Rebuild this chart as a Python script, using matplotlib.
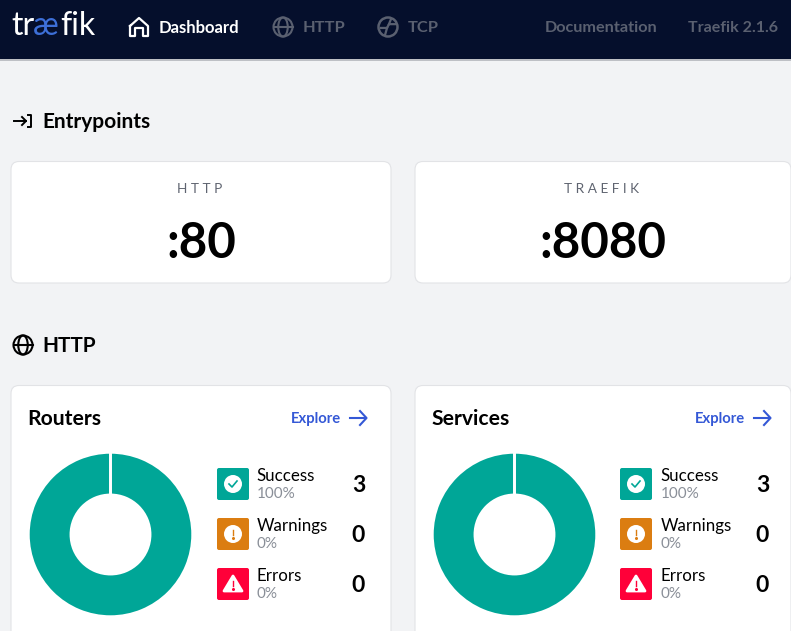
import numpy as np
from matplotlib import pyplot as plt
from matplotlib.patches import FancyBboxPatch, Circle, Polygon, Rectangle, Ellipse

plt.rcParams['font.family'] = ['Lato', 'DejaVu Sans']

# values shown on the dashboard
nav_items = ['Dashboard', 'HTTP', 'TCP']
nav_right = ['Documentation', 'Traefik 2.1.6']
entry_names = ['HTTP', 'TRAEFIK']
entry_ports = [':80', ':8080']
card_titles = ['Routers', 'Services']
status_names = ['Success', 'Warnings', 'Errors']
status_pcts = ['100%', '0%', '0%']
status_counts = [3, 0, 0]

W, H = 791, 631
NAVY = '#050f2c'
GREY = '#5a6070'
BG = '#f2f3f5'
BORDER = '#e2e3e6'
BLUE = '#3458d6'
status_colors = ['#00a697', '#db7d11', '#ff0039']


def card(ax, x0, y0, x1, y1, color='white', edge=BORDER, r=8, z=1):
    ax.add_patch(FancyBboxPatch((x0 + r, y0 + r), x1 - x0 - 2 * r, y1 - y0 - 2 * r,
                                boxstyle='round,pad=%d,rounding_size=%d' % (r, r),
                                fc=color, ec=edge, lw=0.8, zorder=z))


def globe(ax, cx, cy, r, color, lw=1.5):
    ax.add_patch(Circle((cx, cy), r, fc='none', ec=color, lw=lw, zorder=5))
    ax.add_patch(Ellipse((cx, cy), r * 1.0, 2 * r, fc='none', ec=color, lw=lw, zorder=5))
    ax.plot([cx - r, cx + r], [cy, cy], color=color, lw=lw, zorder=5)


def house(ax, cx, cy, color):
    ax.plot([cx - 9, cx, cx + 9, cx + 9, cx + 4, cx + 4, cx - 4, cx - 4, cx - 9, cx - 9],
            [cy - 1, cy - 9, cy - 1, cy + 9, cy + 9, cy + 1, cy + 1, cy + 9, cy + 9, cy - 1],
            color=color, lw=1.6, zorder=5, solid_joinstyle='round')


def tcp_icon(ax, cx, cy, r, color):
    ax.add_patch(Circle((cx, cy), r, fc='none', ec=color, lw=1.8, zorder=5))
    ax.plot([cx - r * 0.75, cx - r * 0.1, cx + r * 0.1, cx + r * 0.75],
            [cy + r * 0.1, cy + r * 0.1, cy - r * 0.3, cy - r * 0.3], color=color, lw=1.6, zorder=5)
    ax.plot([cx - r * 0.1, cx - r * 0.3], [cy + r * 0.1, cy + r * 0.8], color=color, lw=1.6, zorder=5)
    ax.plot([cx + r * 0.1, cx + r * 0.3], [cy - r * 0.3, cy - r * 0.8], color=color, lw=1.6, zorder=5)


def status_icon(ax, x, y, i):
    c = status_colors[i]
    ax.add_patch(FancyBboxPatch((x + 2, y + 2), 28, 28, boxstyle='round,pad=2,rounding_size=2',
                                fc=c, ec='none', zorder=3))
    cx, cy = x + 16, y + 16
    if i == 2:
        ax.add_patch(Polygon([[cx, cy - 8], [cx + 9, cy + 7], [cx - 9, cy + 7]], closed=True,
                             fc='white', ec='white', lw=2, joinstyle='round', zorder=4))
    else:
        ax.add_patch(Circle((cx, cy), 9, fc='white', ec='none', zorder=4))
    if i == 0:
        ax.plot([cx - 4, cx - 1, cx + 4], [cy, cy + 3, cy - 3], color=c, lw=1.2, zorder=5)
    else:
        dy = 1 if i == 2 else 0
        ax.plot([cx, cx], [cy - 4 + dy, cy + 1 + dy], color=c, lw=1.0, zorder=5)
        ax.plot([cx], [cy + 3.5 + dy], marker='o', ms=1.2, color=c, zorder=5)


fig = plt.figure(figsize=(W / 100, H / 100), dpi=100, facecolor=BG)
ax = fig.add_axes([0, 0, 1, 1])
ax.set_xlim(0, W)
ax.set_ylim(H, 0)
ax.axis('off')

# top bar
ax.add_patch(Rectangle((0, 0), W, 59, fc=NAVY, ec='none', zorder=2))
ax.plot([0, W], [59.5, 59.5], color='#b4b6bc', lw=1.2, zorder=1)

# logo
for txt, x, col in zip(['tr', 'æ', 'fik'], [11, 33, 60], ['white', '#3d6fd8', 'white']):
    ax.text(x, 26, txt, color=col, fontsize=23, fontweight='normal', va='center', ha='left', zorder=5)

house(ax, 139, 27, 'white')
ax.text(159, 28, nav_items[0], color='white', fontsize=12, fontweight='bold', va='center', zorder=5)
globe(ax, 283, 27, 9.5, GREY)
ax.text(303, 28, nav_items[1], color=GREY, fontsize=11.8, fontweight='bold', va='center', zorder=5)
tcp_icon(ax, 388, 27, 9.5, GREY)
ax.text(408, 28, nav_items[2], color=GREY, fontsize=11.8, fontweight='bold', va='center', zorder=5)
ax.text(545, 28, nav_right[0], color=GREY, fontsize=11.7, fontweight='bold', va='center', zorder=5)
ax.text(688, 28, nav_right[1], color=GREY, fontsize=11.5, fontweight='bold', va='center', zorder=5)

# Entrypoints section
ax.plot([14, 26], [121, 121], color='black', lw=1.4)
ax.plot([22, 26, 22], [117, 121, 125], color='black', lw=1.4)
ax.plot([28, 31, 31, 28], [115, 115, 127, 127], color='black', lw=1.4)
ax.text(42.5, 122, 'Entrypoints', fontsize=15, fontweight='bold', va='center', color='black')

for x0, x1, name, port in zip([11, 415], [391, 791], entry_names, entry_ports):
    card(ax, x0, 161.5, x1, 283)
    xc = (x0 + x1) / 2
    ax.text(xc - 1, 189, ' '.join(name), fontsize=9.8, color='#5f6470', ha='center', va='center')
    ax.text(xc, 243, port, fontsize=35.5, fontweight='bold', ha='center', va='center', color='black')

# HTTP section
globe(ax, 23, 345, 9.5, 'black')
ax.text(42.5, 346, 'HTTP', fontsize=15, fontweight='bold', va='center', color='black')

for x0, x1, title in zip([11, 415], [391, 791], card_titles):
    card(ax, x0, 385.5, x1, 660)
    ax.text(x0 + 16.5, 419, title, fontsize=15.2, fontweight='bold', va='center', color='black')
    ax.text(x0 + 280, 419, 'Explore', fontsize=10.6, fontweight='bold', va='center', color=BLUE)
    ax.plot([x0 + 339, x0 + 355], [418, 418], color=BLUE, lw=1.5, zorder=3)
    ax.plot([x0 + 349, x0 + 355.5, x0 + 349], [411, 418, 425], color=BLUE, lw=1.5, zorder=3)

    # donut from the status counts
    cx = x0 + 99.5
    pie_ax = fig.add_axes([(cx - 83) / W, 1 - (534.5 + 83) / H, 166 / W, 166 / H])
    pie_ax.pie(status_counts, colors=status_colors, startangle=90, counterclock=False,
               radius=1.01, wedgeprops=dict(width=0.524, edgecolor='white', linewidth=2))
    pie_ax.set_xlim(-1.02, 1.02)
    pie_ax.set_ylim(-1.02, 1.02)

    # status rows
    for i in range(3):
        y = 468 + 50 * i
        status_icon(ax, x0 + 206 if x0 == 11 else x0 + 205, y, i)
        tx = x0 + 245.5
        ax.text(tx, y + 8, status_names[i], fontsize=12.2, va='center', color='black', zorder=5)
        ax.text(tx, y + 26, status_pcts[i], fontsize=11, va='center', color='#8a8f98', zorder=5)
        ax.text(x0 + 347.5, y + 17.5, str(status_counts[i]), fontsize=16.5, fontweight='bold',
                ha='center', va='center', color='black', zorder=5)

fig.savefig('out.png', dpi=100, facecolor=BG)
